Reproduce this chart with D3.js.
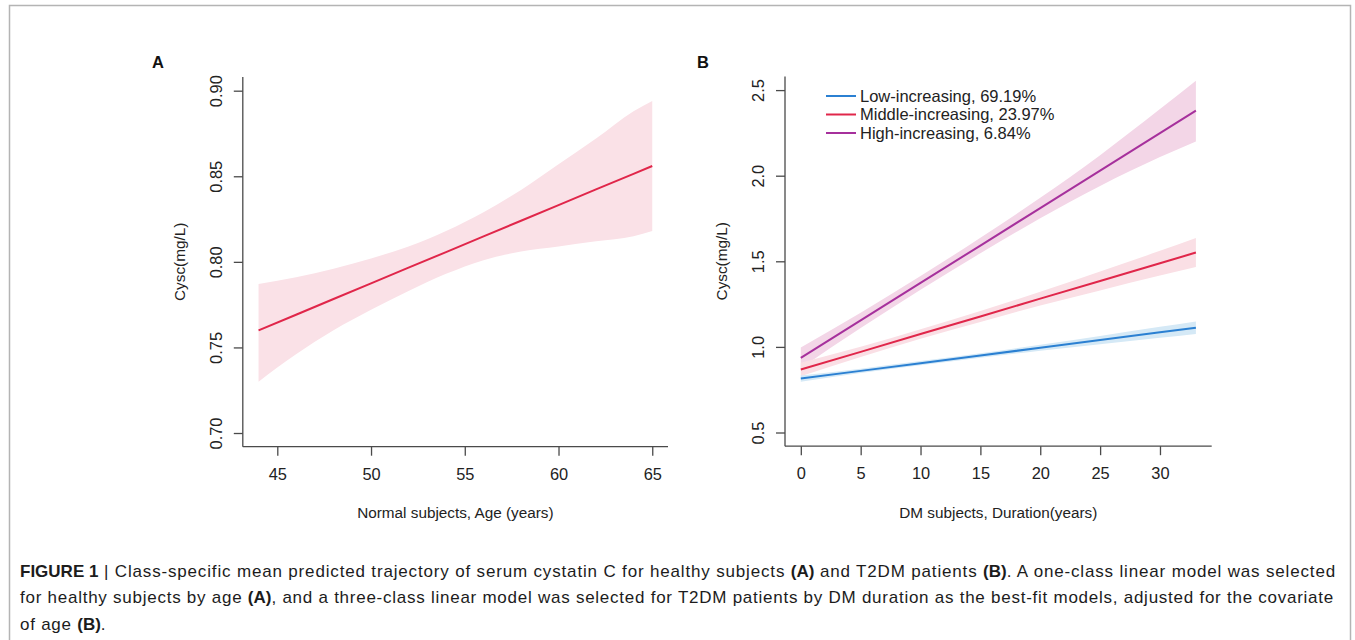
<!DOCTYPE html>
<html><head><meta charset="utf-8">
<script src="https://cdn.jsdelivr.net/npm/d3@7"></script>
<style>
html,body{margin:0;padding:0;background:#fff;}
svg text{font-family:"Liberation Sans",Arial,sans-serif;}
</style></head>
<body>
<svg id="chart" width="1355" height="640"></svg>
<script>
// ---------- Panel A data (Normal subjects) ----------
const ageA   = [44, 46, 48, 50, 52, 54, 56, 58, 60, 62, 64, 65];
const meanA  = [0.7600, 0.7691, 0.7783, 0.7874, 0.7966, 0.8057, 0.8149, 0.8240, 0.8331, 0.8423, 0.8514, 0.8560];
const lowA   = [0.730, 0.746, 0.760, 0.772, 0.783, 0.793, 0.801, 0.806, 0.809, 0.812, 0.815, 0.818];
const highA  = [0.787, 0.791, 0.796, 0.802, 0.809, 0.818, 0.829, 0.842, 0.857, 0.872, 0.888, 0.894];
const xTicksA = [45, 50, 55, 60, 65];
const yTicksA = [0.70, 0.75, 0.80, 0.85, 0.90];

// ---------- Panel B data (DM subjects) ----------
const durB   = [0, 5, 10, 15, 20, 25, 30, 33];
const lowIncMean  = [0.815, 0.860, 0.905, 0.950, 0.995, 1.040, 1.085, 1.112];
const lowIncLo    = [0.797, 0.847, 0.893, 0.937, 0.978, 1.016, 1.053, 1.075];
const lowIncHi    = [0.833, 0.873, 0.917, 0.963, 1.012, 1.064, 1.117, 1.149];
const midIncMean  = [0.868, 0.971, 1.075, 1.178, 1.282, 1.385, 1.489, 1.551];
const midIncLo    = [0.828, 0.941, 1.047, 1.146, 1.242, 1.330, 1.417, 1.466];
const midIncHi    = [0.908, 1.001, 1.103, 1.210, 1.322, 1.440, 1.561, 1.636];
const highIncMean = [0.936, 1.155, 1.374, 1.592, 1.811, 2.030, 2.249, 2.380];
const highIncLo   = [0.876, 1.110, 1.334, 1.547, 1.751, 1.940, 2.109, 2.200];
const highIncHi   = [0.996, 1.200, 1.414, 1.637, 1.871, 2.120, 2.389, 2.555];
const xTicksB = [0, 5, 10, 15, 20, 25, 30];
const yTicksB = [0.5, 1.0, 1.5, 2.0, 2.5];
const legendLabels = ["Low-increasing, 69.19%", "Middle-increasing, 23.97%", "High-increasing, 6.84%"];

const captionParts = [
  [["FIGURE 1",true],[" | Class-specific mean predicted trajectory of serum cystatin C for healthy subjects ",false],["(A)",true],[" and T2DM patients ",false],["(B)",true],[". A one-class linear model was selected",false]],
  [["for healthy subjects by age ",false],["(A)",true],[", and a three-class linear model was selected for T2DM patients by DM duration as the best-fit models, adjusted for the covariate",false]],
  [["of age ",false],["(B)",true],[".",false]]
];

const svg = d3.select("#chart");
const axisCol = "#4a4a4a";
const tickFs = 16.4;
const titleFs = 15.3;

// frame
svg.append("rect").attr("x",9.5).attr("y",5.5).attr("width",1341).attr("height",700)
  .attr("fill","none").attr("stroke","#b4b4b4").attr("stroke-width",1.5);

function drawPanel(cfg){
  const g = svg.append("g");
  const x = d3.scaleLinear().domain(cfg.xDom).range(cfg.xRange);
  const y = d3.scaleLinear().domain(cfg.yDom).range(cfg.yRange);
  cfg.series.forEach(s=>{
    const area = d3.area().x((d,i)=>x(cfg.xs[i])).y0((d,i)=>y(s.lo[i])).y1((d,i)=>y(s.hi[i])).curve(d3.curveMonotoneX);
    g.append("path").datum(s.mean).attr("d",area).attr("fill",s.band).attr("stroke","none");
  });
  cfg.series.forEach(s=>{
    const line = d3.line().x((d,i)=>x(cfg.xs[i])).y(d=>y(d));
    g.append("path").datum(s.mean).attr("d",line).attr("fill","none").attr("stroke",s.color).attr("stroke-width",2);
  });
  const [x0,x1] = cfg.xRange, [yb,yt] = cfg.yRange;
  g.append("line").attr("x1",x0).attr("x2",x0).attr("y1",yt).attr("y2",yb).attr("stroke",axisCol).attr("stroke-width",1.3);
  g.append("line").attr("x1",x0).attr("x2",x1).attr("y1",yb).attr("y2",yb).attr("stroke",axisCol).attr("stroke-width",1.3);
  const xAxis = d3.axisBottom(x).tickValues(cfg.xTicks).tickSize(9).tickFormat(d3.format("d"));
  const xa = g.append("g").attr("transform",`translate(0,${yb})`).call(xAxis);
  xa.select(".domain").remove();
  xa.selectAll("line").attr("stroke",axisCol).attr("stroke-width",1.3);
  xa.selectAll("text").attr("font-size",tickFs).attr("fill","#222").attr("font-family","Liberation Sans, Arial, sans-serif")
    .attr("y",33).attr("dy",null);
  const yAxis = d3.axisLeft(y).tickValues(cfg.yTicks).tickSize(9).tickFormat(cfg.yFmt);
  const ya = g.append("g").attr("transform",`translate(${x0},0)`).call(yAxis);
  ya.select(".domain").remove();
  ya.selectAll("line").attr("stroke",axisCol).attr("stroke-width",1.3);
  ya.selectAll("text").attr("font-size",tickFs).attr("fill","#222").attr("font-family","Liberation Sans, Arial, sans-serif")
    .attr("x",null).attr("dy",null).attr("text-anchor","middle")
    .attr("transform","translate(-21,0) rotate(-90)").attr("y",0);
  g.append("text").attr("x",(x0+x1)/2).attr("y",518).attr("text-anchor","middle").attr("font-size",titleFs).attr("fill","#222").text(cfg.xTitle);
  g.append("text").attr("transform",`translate(${x0-58},${(yt+yb)/2}) rotate(-90)`).attr("text-anchor","middle").attr("font-size",titleFs).attr("fill","#222").text("Cysc(mg/L)");
  g.append("text").attr("x",cfg.letterX).attr("y",68).attr("font-size",16.5).attr("font-weight","bold").attr("fill","#111").text(cfg.letter);
  return {g,x,y};
}

drawPanel({
  xs: ageA, xDom:[43.16,65.84], xRange:[242.8,668], yDom:[0.692,0.908], yRange:[446.7,77],
  xTicks:xTicksA, yTicks:yTicksA, yFmt:d3.format(".2f"),
  series:[{mean:meanA,lo:lowA,hi:highA,color:"#e0264a",band:"#fae1e7"}],
  xTitle:"Normal subjects, Age (years)", letter:"A", letterX:152
});

drawPanel({
  xs: durB, xDom:[-1.32,34.32], xRange:[785,1211.7], yDom:[0.42,2.58], yRange:[446.2,76.4],
  xTicks:xTicksB, yTicks:yTicksB, yFmt:d3.format(".1f"),
  series:[
    {mean:highIncMean,lo:highIncLo,hi:highIncHi,color:"#a6309c",band:"#f3d6e7"},
    {mean:midIncMean,lo:midIncLo,hi:midIncHi,color:"#e0264a",band:"#fadfe5"},
    {mean:lowIncMean,lo:lowIncLo,hi:lowIncHi,color:"#2b80d2",band:"#d5e9f6"}
  ],
  xTitle:"DM subjects, Duration(years)", letter:"B", letterX:697
});

// legend
const legCols = ["#2b80d2","#e0264a","#a6309c"];
const leg = svg.append("g");
legendLabels.forEach((t,i)=>{
  const yy = 96 + i*18.5;
  leg.append("line").attr("x1",826).attr("x2",856).attr("y1",yy).attr("y2",yy).attr("stroke",legCols[i]).attr("stroke-width",2);
  leg.append("text").attr("x",860).attr("y",yy+5.5).attr("font-size",16.5).attr("fill","#222").text(t);
});

// caption: bold parts at natural width, regular parts spread so each full line spans the source width
const cap = svg.append("g");
const lineTargets = [1316, 1314, null];
let lastLs = 0;
captionParts.forEach((parts,li)=>{
  const t = cap.append("text").attr("x",20).attr("y",577+li*26.3).attr("font-size",17).attr("fill","#1c1c1c");
  const regs = [];
  parts.forEach(p=>{
    const s = t.append("tspan").attr("font-weight",p[1]?"bold":"normal").text(p[0]);
    if(!p[1]) regs.push(s);
  });
  let ls = lastLs;
  if(lineTargets[li]){
    const natural = t.node().getComputedTextLength();
    const regChars = parts.filter(p=>!p[1]).map(p=>p[0]).join("").length;
    ls = (lineTargets[li] - natural) / regChars;
    lastLs = ls;
  }
  regs.forEach(s=>s.attr("letter-spacing",ls));
});
</script>
</body></html>
